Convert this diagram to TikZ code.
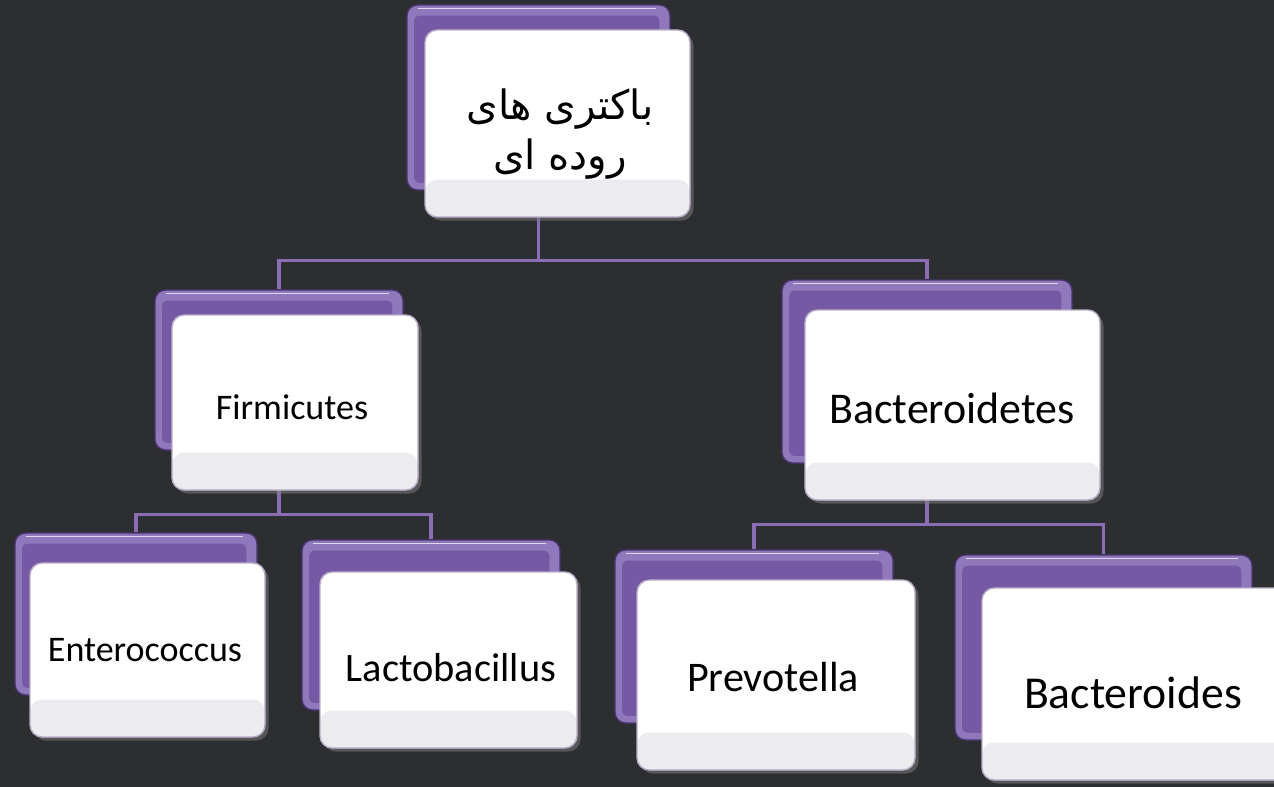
\documentclass[tikz,border=0pt]{standalone}
\usepackage{fontspec}
\setmainfont{Carlito}
\newfontfamily\persfont[Script=Arabic]{DejaVu Sans}
\TeXXeTstate=1
\usetikzlibrary{fit,shadows}
\definecolor{board}{HTML}{2C2E31}
\definecolor{tabrim}{HTML}{9078BC}
\definecolor{tabmid}{HTML}{7659A4}
\definecolor{tabdark}{HTML}{4A3470}
\definecolor{linkc}{HTML}{8A6DB2}
\definecolor{cardline}{HTML}{B9AEC8}
\definecolor{gloss}{HTML}{ECECF0}

\begin{document}
\begin{tikzpicture}[x=0.02cm,y=-0.02cm,
  tab/.style={draw=tabdark,line width=0.8pt,rounded corners=6pt,fill=tabrim,inner sep=0pt,
    path picture={\fill[tabmid,rounded corners=3pt]([shift={(4pt,-6pt)}]path picture bounding box.north west) rectangle ([shift={(-6pt,4pt)}]path picture bounding box.south east);
      \draw[white!70!tabrim,line width=1pt]([shift={(6pt,-2pt)}]path picture bounding box.north west) -- ([shift={(-8pt,-2pt)}]path picture bounding box.north east);}},
  card/.style={draw=cardline,line width=0.8pt,rounded corners=7pt,fill=white,inner sep=0pt,
    drop shadow={opacity=0.5,shadow xshift=2pt,shadow yshift=-2pt},
    path picture={\fill[gloss](path picture bounding box.south west) rectangle ([yshift=0.75cm]path picture bounding box.south east);}},
  lat/.style={font=\fontsize{#1}{#1}\selectfont},
  link/.style={draw=linkc,line width=2pt}]
\useasboundingbox[fill=board] (0,0) rectangle (1274,787);
% back tabs
\node[tab,fit={(407,5)(670,190)}] (topB) {};
\node[tab,fit={(155,290)(403,450)}] (firmB) {};
\node[tab,fit={(782,280)(1072,463)}] (bactB) {};
\node[tab,fit={(15,533)(257,695)}] (enteB) {};
\node[tab,fit={(302,540)(560,710)}] (lactB) {};
\node[tab,fit={(615,550)(893,723)}] (prevB) {};
\node[tab,fit={(955,555)(1252,740)}] (bdesB) {};
% links
\path (topB.south) ++(0,70) coordinate (topS);
\path (firmB.south) ++(0,64) coordinate (firmS);
\path (bactB.south) ++(0,61) coordinate (bactS);
\draw[link] (topB.south) -- (topS) -| (firmB.north) (topS) -| (bactB.north);
\draw[link] (firmB.south) -- (firmS) -| (enteB.north) (firmS) -| (lactB.north);
\draw[link] (bactB.south) -- (bactS) -| (prevB.north) (bactS) -| (bdesB.north);
% front cards
\node[card,fit={(425,30)(690,217)}] (top) {};
\node[card,fit={(172,315)(418,490)}] (firm) {};
\node[card,fit={(805,310)(1100,500)}] (bact) {};
\node[card,fit={(30,563)(265,737)}] (ente) {};
\node[card,fit={(320,572)(577,748)}] (lact) {};
\node[card,fit={(637,580)(915,770)}] (prev) {};
\node[card,fit={(982,588)(1290,780)}] (bdes) {};
% texts
\node[font=\persfont\fontsize{23}{28}\selectfont,align=center] (topT) at (560,134)
  {\beginR باکتری های\endR\\\beginR روده ای\endR};
\node[lat=20.5] (firmT) at (292,407) {Firmicutes};
\node[lat=25] (bactT) at (952,408) {Bacteroidetes};
\node[lat=20.5] (enteT) at (145,650) {Enterococcus};
\node[lat=23] (lactT) at (451,668) {Lactobacillus};
\node[lat=24] (prevT) at (773,677) {Prevotella};
\node[lat=26] (bdesT) at (1133,693) {Bacteroides};
\end{tikzpicture}
\end{document}
